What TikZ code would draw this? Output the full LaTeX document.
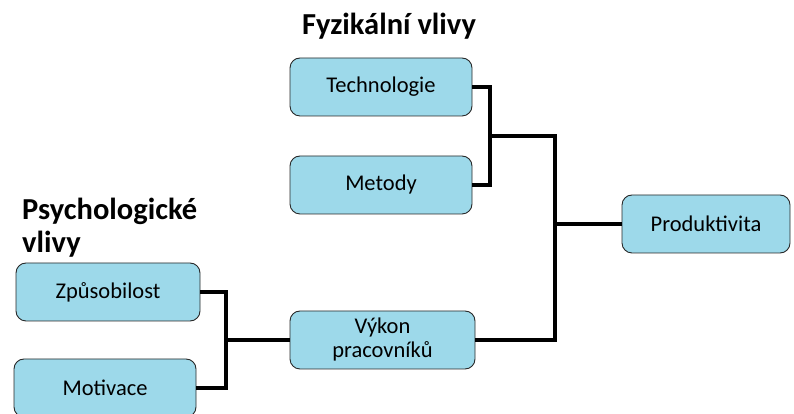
\documentclass[tikz,border=0pt]{standalone}
\usepackage{fontspec}
\setmainfont{Carlito}
\definecolor{boxfill}{RGB}{157,217,234}
\definecolor{boxline}{RGB}{40,40,40}
\begin{document}
\begin{tikzpicture}[x=1pt,y=1pt,
  vbox/.style={draw=boxline,line width=0.9pt,fill=boxfill,rounded corners=10pt,
    minimum width=182pt,minimum height=58pt,align=center,font=\fontsize{22.5}{24}\selectfont,inner sep=0pt},
  conn/.style={line width=3.2pt,black},
  ttl/.style={font=\bfseries\fontsize{30.5}{33}\selectfont,inner sep=0pt}]
\useasboundingbox (0,0) rectangle (794,414);
\node[vbox] (tech) at (381,327) {Technologie};
\node[vbox] (met) at (381,229) {Metody};
\node[vbox,minimum width=168pt] (prod) at (706,190) {Produktivita};
\node[vbox,minimum width=184pt] (zpu) at (108,122) {Způsobilost};
\node[vbox] (mot) at (105,26) {Motivace};
\node[vbox,minimum width=185pt] (vyk) at (382.5,74) {Výkon\\pracovníků};
\node[ttl] (t1) at (389,388) {Fyzikální vlivy};
\node[ttl,anchor=north west,align=left] (t2) at (22,216) {Psychologické\\vlivy};
\coordinate (j1) at (490,278);
\coordinate (j2) at (226,74);
\coordinate (j3) at (555,190);
\draw[conn] (tech.east) -| (j1) |- (met.east);
\draw[conn] (zpu.east) -| (j2) |- (mot.east);
\draw[conn] (j2) -- (vyk.west);
\draw[conn] (j1) -| (j3) |- (vyk.east);
\draw[conn] (j3) -- (prod.west);
\end{tikzpicture}
\end{document}
